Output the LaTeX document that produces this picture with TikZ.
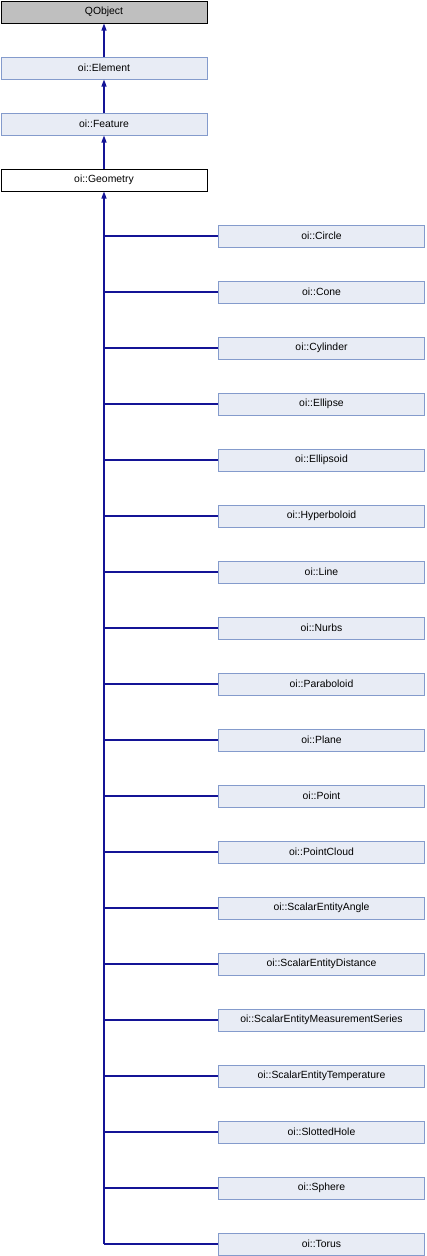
\documentclass[tikz,border=0pt]{standalone}
\usepackage{fontspec}
\setmainfont{Liberation Sans}
\usetikzlibrary{arrows.meta}
\definecolor{boxfill}{RGB}{232,236,245}
\definecolor{boxline}{RGB}{132,155,204}
\definecolor{rootgray}{RGB}{191,191,191}
\definecolor{edge}{RGB}{20,20,150}
\begin{document}
\begin{tikzpicture}[x=1pt,y=-1pt,
  cls/.style={draw=boxline,fill=boxfill,line width=1pt,minimum width=206pt,minimum height=22pt,inner sep=0pt,font=\fontsize{10.4}{12}\selectfont},
  root/.style={cls,draw=black,fill=rootgray},
  cur/.style={cls,draw=black,fill=white},
  inh/.style={draw=edge,line width=1.1pt,-{Triangle[length=7pt,width=5pt]}},
  lnk/.style={draw=edge,line width=1.1pt}]
\useasboundingbox (0,0) rectangle (426,1256);
\node[root] (qo) at (104,12) {QObject};
\node[cls] (el) at (104,68) {oi::Element};
\node[cls] (fe) at (104,124) {oi::Feature};
\node[cur] (ge) at (104,180) {oi::Geometry};
\foreach \n [count=\i from 0] in {Circle,Cone,Cylinder,Ellipse,Ellipsoid,Hyperboloid,Line,Nurbs,Paraboloid,Plane,Point,PointCloud,ScalarEntityAngle,ScalarEntityDistance,ScalarEntityMeasurementSeries,ScalarEntityTemperature,SlottedHole,Sphere,Torus}{
  \node[cls] (c\i) at (321.5,236+56*\i) {oi::\n};
  \coordinate (j\i) at (104,236+56*\i);
  \draw[lnk] (c\i.west) -- (j\i);
}
\draw[inh] (el.north) -- (qo.south);
\draw[inh] (fe.north) -- (el.south);
\draw[inh] (ge.north) -- (fe.south);
\draw[inh] (j18) -- (ge.south);
\end{tikzpicture}
\end{document}
